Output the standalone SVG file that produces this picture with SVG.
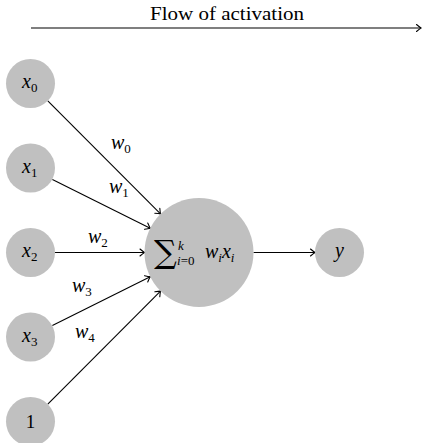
<svg xmlns="http://www.w3.org/2000/svg" width="424" height="443" viewBox="0 0 424 443">
<defs>
<style>
.n{fill:#c0c0c0;stroke:none}
.e{stroke:#000;stroke-width:1.1;fill:none;marker-end:url(#ah)}
</style>
<marker id="ah" viewBox="-6 -5 8 10" markerWidth="8" markerHeight="10" refX="0" refY="0" orient="auto" markerUnits="userSpaceOnUse">
<path d="M-4.5,-3.5 Q-1.5,-1 0,0 Q-1.5,1 -4.5,3.5" stroke="#000" stroke-width="1.1" fill="none" stroke-linecap="round"/>
</marker>
</defs>
<g id="title">
<text font-family="Liberation Serif" x="227" y="20" font-size="18" text-anchor="middle" textLength="154" lengthAdjust="spacingAndGlyphs">Flow of activation</text>
<line x1="31" y1="28" x2="421" y2="28" class="e"/>
</g>
<g id="connectors">
<line class="e" x1="47.8" y1="100.8" x2="160.5" y2="213.9"/>
<line class="e" x1="52.4" y1="179.4" x2="150.2" y2="228.2"/>
<line class="e" x1="55" y1="252.5" x2="144.5" y2="252.5"/>
<line class="e" x1="52.4" y1="325.6" x2="150.2" y2="276.8"/>
<line class="e" x1="47.8" y1="404.2" x2="160.5" y2="291.1"/>
<line class="e" x1="253.5" y1="252.5" x2="315" y2="252.5"/>
</g>
<g id="labels">
<text font-family="Liberation Serif" font-size="20" font-style="italic" x="111" y="149">w<tspan font-size="13" font-style="normal" dy="4">0</tspan></text>
<text font-family="Liberation Serif" font-size="20" font-style="italic" x="109" y="193">w<tspan font-size="13" font-style="normal" dy="4">1</tspan></text>
<text font-family="Liberation Serif" font-size="20" font-style="italic" x="88" y="243">w<tspan font-size="13" font-style="normal" dy="4">2</tspan></text>
<text font-family="Liberation Serif" font-size="20" font-style="italic" x="72" y="292">w<tspan font-size="13" font-style="normal" dy="4">3</tspan></text>
<text font-family="Liberation Serif" font-size="20" font-style="italic" x="75" y="338">w<tspan font-size="13" font-style="normal" dy="4">4</tspan></text>
</g>
<g id="x0"><circle class="n" cx="30.5" cy="83.5" r="24.5"/><text font-family="Liberation Serif" font-size="20" font-style="italic" x="22" y="88">x<tspan font-size="13" font-style="normal" dy="4">0</tspan></text></g>
<g id="x1"><circle class="n" cx="30.5" cy="168" r="24.5"/><text font-family="Liberation Serif" font-size="20" font-style="italic" x="22" y="172.5">x<tspan font-size="13" font-style="normal" dy="4">1</tspan></text></g>
<g id="x2"><circle class="n" cx="30.5" cy="252.5" r="24.5"/><text font-family="Liberation Serif" font-size="20" font-style="italic" x="22" y="257">x<tspan font-size="13" font-style="normal" dy="4">2</tspan></text></g>
<g id="x3"><circle class="n" cx="30.5" cy="337" r="24.5"/><text font-family="Liberation Serif" font-size="20" font-style="italic" x="22" y="341.5">x<tspan font-size="13" font-style="normal" dy="4">3</tspan></text></g>
<g id="one"><circle class="n" cx="30.5" cy="421.5" r="24.5"/><text font-family="Liberation Serif" x="30.5" y="428" font-size="19" text-anchor="middle">1</text></g>
<g id="sum"><circle class="n" cx="199" cy="252.5" r="54.5"/>
<text x="154" y="263" font-size="32" font-family="DejaVu Serif">∑</text>
<text font-family="Liberation Serif" x="178" y="250" font-size="13" font-style="italic">k</text>
<text font-family="Liberation Serif" x="177" y="265" font-size="13" font-style="italic">i<tspan font-style="normal">=0</tspan></text>
<text font-family="Liberation Serif" x="205" y="258" font-size="20" font-style="italic">w<tspan font-size="13" dy="4">i</tspan><tspan dy="-4">x</tspan><tspan font-size="13" dy="4">i</tspan></text>
</g>
<g id="y"><circle class="n" cx="339.5" cy="252.5" r="24.5"/><text font-family="Liberation Serif" font-size="20" font-style="italic" x="339.5" y="257" text-anchor="middle">y</text></g>
</svg>
